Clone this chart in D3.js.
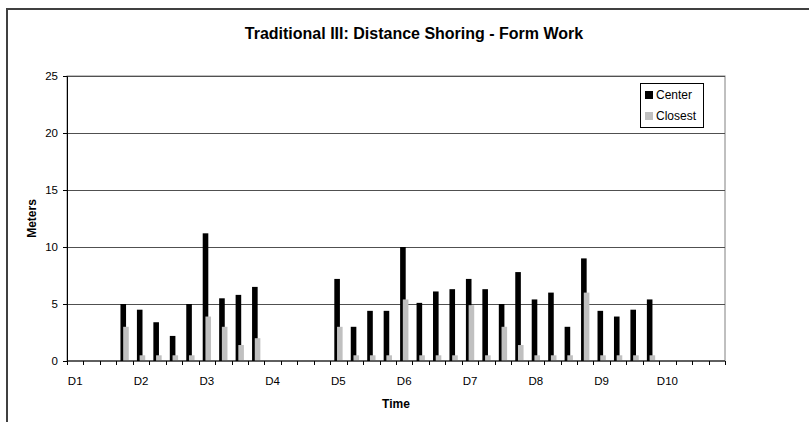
<!DOCTYPE html>
<html>
<head>
<meta charset="utf-8">
<script src="https://cdn.jsdelivr.net/npm/d3@7"></script>
<style>
    body { margin: 0; background: #fff; }
    svg text { font-family: "Liberation Sans", Arial, sans-serif; }
</style>
</head>
<body>
<div id="chart"></div>
<script>
// 40 time slots, 4 per day; only the first slot of each day gets a label
const dayLabels = ["D1", "D2", "D3", "D4", "D5", "D6", "D7", "D8", "D9", "D10"];
const slotsPerDay = 4;
const seriesNames = ["Center", "Closest"];

const center = [
    null, null, null, 5.0, 4.5, 3.4, 2.2, 5.0, 11.2, 5.5,
    5.8, 6.5, null, null, null, null, 7.2, 3.0, 4.4, 4.4,
    10.0, 5.1, 6.1, 6.3, 7.2, 6.3, 5.0, 7.8, 5.4, 6.0,
    3.0, 9.0, 4.4, 3.9, 4.5, 5.4, null, null, null, null
];
const closest = [
    null, null, null, 3.0, 0.5, 0.5, 0.5, 0.5, 3.9, 3.0,
    1.4, 2.0, null, null, null, null, 3.0, 0.5, 0.5, 0.5,
    5.4, 0.5, 0.5, 0.5, 4.9, 0.5, 3.0, 1.4, 0.5, 0.5,
    0.5, 6.0, 0.5, 0.5, 0.5, 0.5, null, null, null, null
];
const yTicks = [0, 5, 10, 15, 20, 25];

const W = 809, H = 422;
const margin = {top: 76, right: 84, bottom: 61, left: 67};
const width = W - margin.left - margin.right;
const height = H - margin.top - margin.bottom;

var root = d3.select("#chart")
    .append("svg")
    .attr("width", W)
    .attr("height", H);

// chart area frame (runs off the right and bottom edges)
root.append("rect")
    .attr("x", 7).attr("y", 9)
    .attr("width", W + 20).attr("height", H + 20)
    .attr("fill", "none")
    .attr("stroke", "#404040")
    .attr("stroke-width", 2);

root.append("text")
    .attr("x", margin.left + width / 2 + 18)
    .attr("y", 39)
    .attr("text-anchor", "middle")
    .style("font-size", "16px")
    .style("font-weight", "bold")
    .text("Traditional III: Distance Shoring - Form Work");

var svg = root.append("g")
    .attr("transform", "translate(" + margin.left + "," + margin.top + ")");

const slots = d3.range(center.length);
var x = d3.scaleBand()
    .domain(slots)
    .range([0, width])
    .padding(0);

var y = d3.scaleLinear()
    .domain([0, 25])
    .range([height, 0]);

// plot area border
svg.append("rect")
    .attr("width", width).attr("height", height)
    .attr("fill", "none")
    .attr("stroke", "#808080");

// gridlines
svg.selectAll(".grid")
    .data(yTicks.slice(1))
    .enter()
    .append("line")
    .attr("x1", 0).attr("x2", width)
    .attr("y1", d => Math.round(y(d)) + 0.5)
    .attr("y2", d => Math.round(y(d)) + 0.5)
    .attr("stroke", "#505050");

// bars: grey drawn after black so it overlaps
const bw = x.bandwidth();
const barW = bw * 0.34;
const series = [
    {values: center, fill: "#000000", offset: -0.25 * bw},
    {values: closest, fill: "#c0c0c0", offset: -0.085 * bw}
];
series.forEach(function (s) {
    svg.selectAll(null)
        .data(slots.filter(i => s.values[i] != null))
        .enter()
        .append("rect")
        .attr("x", i => x(i) + bw / 2 + s.offset)
        .attr("y", i => y(s.values[i]))
        .attr("width", barW)
        .attr("height", i => height - y(s.values[i]))
        .attr("fill", s.fill);
});

// Y axis
var yAxis = svg.append("g")
    .call(d3.axisLeft(y).tickValues(yTicks).tickSize(4).tickPadding(5));
yAxis.select(".domain").attr("stroke", "#000");
yAxis.selectAll("text").style("font-size", "11.5px").attr("fill", "#000");

// X axis: ticks on slot boundaries, labels at each day's first slot
var xAxisG = svg.append("g")
    .attr("transform", "translate(0," + height + ")");
xAxisG.append("line")
    .attr("x1", 0).attr("x2", width)
    .attr("stroke", "#000");
xAxisG.selectAll(".tick")
    .data(d3.range(center.length + 1))
    .enter()
    .append("line")
    .attr("x1", i => Math.round(i * bw) + 0.5)
    .attr("x2", i => Math.round(i * bw) + 0.5)
    .attr("y1", 0).attr("y2", 4)
    .attr("stroke", "#000");
xAxisG.selectAll(".lbl")
    .data(dayLabels)
    .enter()
    .append("text")
    .attr("x", (d, i) => x(i * slotsPerDay) + bw / 2)
    .attr("y", 24)
    .attr("text-anchor", "middle")
    .style("font-size", "11.5px")
    .text(d => d);

// axis titles
svg.append("text")
    .attr("x", width / 2)
    .attr("y", height + 47)
    .attr("text-anchor", "middle")
    .style("font-size", "12px")
    .style("font-weight", "bold")
    .text("Time");

svg.append("text")
    .attr("transform", "translate(" + (-31) + "," + (height / 2) + ")rotate(-90)")
    .attr("text-anchor", "middle")
    .style("font-size", "12px")
    .style("font-weight", "bold")
    .text("Meters");

// legend
var legend = svg.append("g")
    .attr("transform", "translate(" + (640 - margin.left) + "," + (83 - margin.top) + ")");
legend.append("rect")
    .attr("x", 0.5).attr("y", 0.5)
    .attr("width", 63).attr("height", 44)
    .attr("fill", "#fff")
    .attr("stroke", "#000");
seriesNames.forEach(function (name, i) {
    legend.append("rect")
        .attr("x", 5).attr("y", 8 + i * 21)
        .attr("width", 8).attr("height", 8)
        .attr("fill", series[i].fill);
    legend.append("text")
        .attr("x", 16).attr("y", 16 + i * 21)
        .style("font-size", "12px")
        .text(name);
});
</script>
</body>
</html>
